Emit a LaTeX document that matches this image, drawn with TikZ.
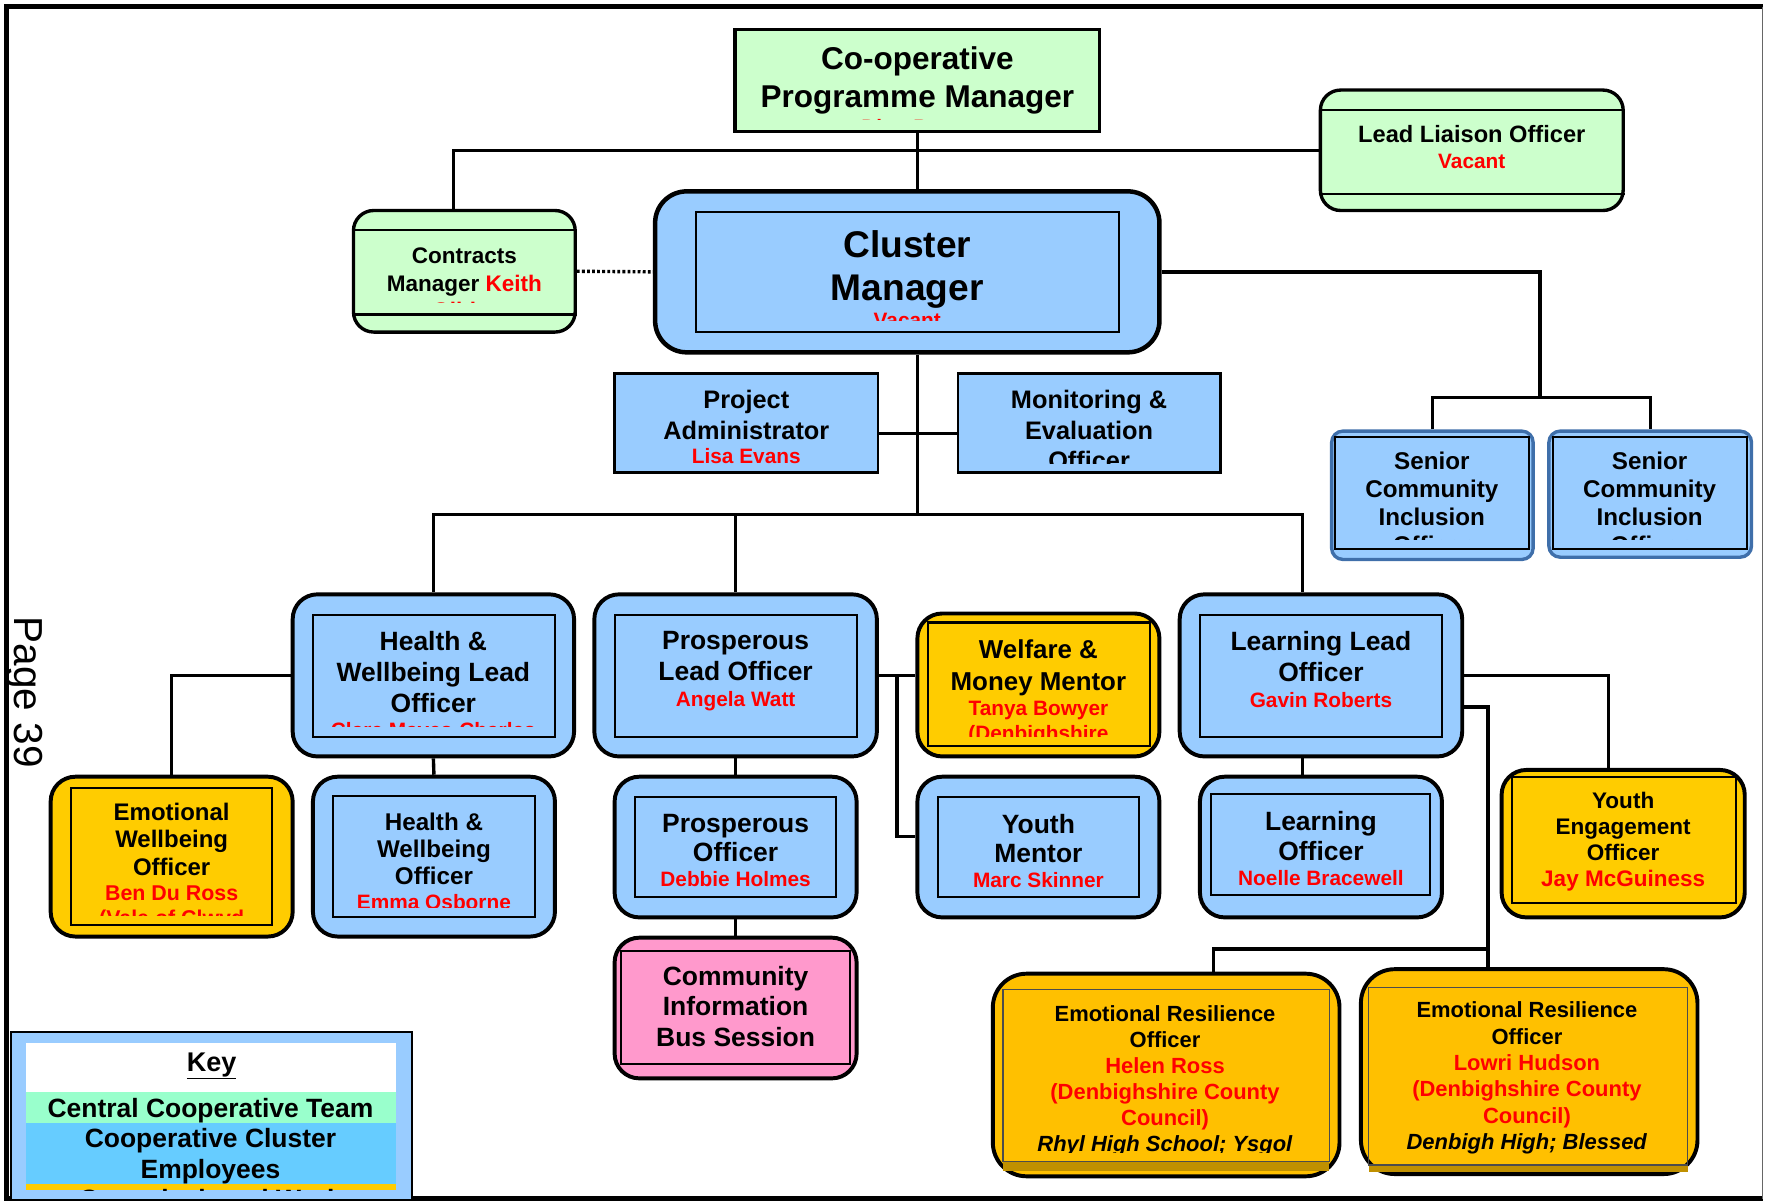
\documentclass[tikz,border=0pt]{standalone}
\usepackage{fontspec}
\setmainfont{Liberation Sans}
\usetikzlibrary{calc}
\definecolor{boxgreen}{HTML}{CCFFCC}
\definecolor{boxblue}{HTML}{99CCFF}
\definecolor{boxyellow}{HTML}{FFCC00}
\definecolor{boxamber}{HTML}{FFC000}
\definecolor{boxpink}{HTML}{FF99CC}
\definecolor{keygreen}{HTML}{99FFCC}
\definecolor{keyblue}{HTML}{66CCFF}
\definecolor{namered}{HTML}{FF0000}
\definecolor{edgeblue}{HTML}{3F6FAA}
\definecolor{amberdark}{HTML}{C09000}
\newcommand{\boxfont}[2]{\fontsize{#1}{#2}\selectfont\bfseries}
\newcommand{\who}[2][18.5]{{\color{namered}\fontsize{#1}{#1}\selectfont #2}}
\tikzset{
  rolebox/.style={draw, line width=3.5pt, rounded corners=22pt, inner sep=0pt},
  roleframe/.style={draw, line width=1.8pt, inner sep=0pt},
  plainbox/.style={draw, line width=2.5pt, inner sep=0pt},
  link/.style={line width=3pt},
  roletext/.style={align=center, inner sep=0pt, anchor=north},
}

\begin{document}
\begin{tikzpicture}[x=1pt, y=-1pt]
\useasboundingbox (0,0) rectangle (1568,1069);

% Draw page frame
\draw[line width=4.5pt] (1566,6) -- (6,6) -- (6,1065) -- (1566,1065);
\draw[line width=1.2pt, black!60] (1566,6) -- (1566,1065);
\node[rotate=-90, inner sep=0pt, font=\fontsize{36}{36}\selectfont] (pagenum) at (22,615) {Page 39};

% Draw central team
\node[plainbox, line width=3pt, fill=boxgreen, minimum width=324, minimum height=91] (coop) at (815,71.5) {};
\begin{scope}
  \clip (653,26) rectangle (977,106);
  \node[roletext, font=\boxfont{28}{33}] (cooptxt) at (815,41.6) {Co-operative\\Programme Manager\\[-9pt]\who{Dion Potter}};
\end{scope}

\node[rolebox, rounded corners=18pt, line width=3pt, fill=boxgreen, minimum width=269, minimum height=107] (liaison) at (1307.5,133.5) {};
\draw[line width=2pt] ([yshift=-19pt]liaison.north west) -- ([yshift=-19pt]liaison.north east);
\draw[line width=2pt] ([yshift=16pt]liaison.south west) -- ([yshift=16pt]liaison.south east);
\node[roletext, font=\boxfont{21}{24}] (liaisontxt) at (1307.5,111.2) {Lead Liaison Officer\\[-1pt]\who{Vacant}};

\node[rolebox, rounded corners=18pt, line width=3pt, fill=boxgreen, minimum width=197, minimum height=108] (contracts) at (412.5,241) {};
\draw[line width=2pt] ([yshift=-19pt]contracts.north west) -- ([yshift=-19pt]contracts.north east);
\draw[line width=2pt] ([yshift=17pt]contracts.south west) -- ([yshift=17pt]contracts.south east);
\begin{scope}
  \clip (314,206) rectangle (511,268.5);
  \node[roletext, font=\boxfont{20}{25}] (contractstxt) at (412.5,219.6) {Contracts\\Manager \who[20]{Keith}\\[-1pt]\who[20]{Gibbs}};
\end{scope}

% Draw cluster manager
\node[rolebox, rounded corners=28pt, line width=4pt, fill=boxblue, minimum width=448, minimum height=143] (cluster) at (806,241.5) {};
\node[roleframe, minimum width=376, minimum height=107] (clusterin) at (806,241.5) {};
\begin{scope}
  \clip (618,188) rectangle (994,285);
  \node[roletext, font=\boxfont{33}{38}] (clustertxt) at (806,204.8) {Cluster\\Manager\\[-13.7pt]\who{Vacant}};
\end{scope}

\draw[line width=3pt, dash pattern=on 2.5pt off 2pt] (contracts.east) -- (cluster.west);
\draw[link] (coop.south) -- (coop.south |- cluster.north);
\draw[link] (liaison.west) -| ([xshift=-9.5pt]contracts.north);

% Draw support posts
\node[plainbox, fill=boxblue, minimum width=234, minimum height=88] (admin) at (663,376) {};
\begin{scope}
  \clip (546,332) rectangle (780,419);
  \node[roletext, font=\boxfont{22.5}{27}] (admintxt) at (663,346.7) {Project\\Administrator\\[-5.4pt]\who{Lisa Evans}};
\end{scope}
\node[plainbox, fill=boxblue, minimum width=233, minimum height=88] (monitor) at (967.5,376) {};
\begin{scope}
  \clip (851,332) rectangle (1084,412);
  \node[roletext, font=\boxfont{22.5}{27}] (monitortxt) at (967.5,346.7) {Monitoring \&\\Evaluation\\Officer};
\end{scope}

\coordinate (spine) at (815,457);
\draw[link] (coop.south |- cluster.south) -- (spine);
\draw[link] ([yshift=-9pt]admin.east) -- ([yshift=-9pt]monitor.west);

% Draw senior inclusion officers
\node[rolebox, rounded corners=10pt, line width=3pt, draw=edgeblue, fill=boxblue, minimum width=179, minimum height=114] (senior1) at (1272.5,440) {};
\node[roleframe, minimum width=172, minimum height=100] (senior1in) at (1272,438) {};
\node[rolebox, rounded corners=10pt, line width=3pt, draw=edgeblue, fill=boxblue, minimum width=180, minimum height=112] (senior2) at (1466,439) {};
\node[roleframe, minimum width=172, minimum height=100] (senior2in) at (1466,438) {};
\begin{scope}
  \clip (1186,388) rectangle (1552,479);
  \node[roletext, font=\boxfont{21.5}{25}] (senior1txt) at (1272,401) {Senior\\Community\\Inclusion\\Officer};
  \node[roletext, font=\boxfont{21.5}{25}] (senior2txt) at (1465.5,401) {Senior\\Community\\Inclusion\\Officer};
\end{scope}

\coordinate (seniorfork) at (1368,353);
\draw[link] (cluster.east) -| (seniorfork);
\draw[link] (senior1.north) |- (seniorfork) -| (senior2.north);

% Draw lead officers
\node[rolebox, fill=boxblue, minimum width=250, minimum height=144] (hwlead) at (385,600) {};
\node[roleframe, minimum width=215, minimum height=109] (hwleadin) at (385.5,600.5) {};
\begin{scope}
  \clip (278,546) rectangle (493,645.5);
  \node[roletext, font=\boxfont{23.5}{27.5}] (hwleadtxt) at (385,560.3) {Health \&\\Wellbeing Lead\\Officer\\[-5pt]\who{Clare Mayes-Charles}};
\end{scope}

\node[rolebox, fill=boxblue, minimum width=251, minimum height=144] (plead) at (653.5,600) {};
\node[roleframe, minimum width=215, minimum height=109] (pleadin) at (653.5,600.5) {};
\node[roletext, font=\boxfont{23.5}{28}] (pleadtxt) at (653.5,560.3) {Prosperous\\Lead Officer\\[-4.8pt]\who{Angela Watt}};

\node[rolebox, fill=boxyellow, minimum width=215, minimum height=127] (welfare) at (922.5,608.5) {};
\node[roleframe, minimum width=198, minimum height=110] (welfarein) at (923,608) {};
\begin{scope}
  \clip (824,553) rectangle (1022,654);
  \node[roletext, font=\boxfont{23}{28}] (welfaretxt) at (922.5,568.5) {Welfare \&\\Money Mentor\\[-5.6pt]\who{Tanya Bowyer}\\[-5.6pt]\who{(Denbighshire}};
\end{scope}

\node[rolebox, fill=boxblue, minimum width=251, minimum height=144] (learnlead) at (1173.5,600) {};
\node[roleframe, minimum width=215, minimum height=109] (learnleadin) at (1173.5,600.5) {};
\node[roletext, font=\boxfont{23.5}{28}] (learnleadtxt) at (1173.5,560.3) {Learning Lead\\Officer\\[-4.8pt]\who{Gavin Roberts}};

\draw[link] (hwlead.north) |- (spine) -| ([xshift=-16.5pt]learnlead.north);
\draw[link] (plead.north) -- (plead.north |- spine);

% Draw officers
\node[rolebox, fill=boxyellow, minimum width=215, minimum height=142] (emowell) at (152.5,761) {};
\node[roleframe, minimum width=179, minimum height=122] (emowellin) at (152.5,761) {};
\begin{scope}
  \clip (63,700) rectangle (242,813);
  \node[roletext, font=\boxfont{21.3}{24.5}] (emowelltxt) at (152.5,713.1) {Emotional\\Wellbeing\\Officer\\[-2.4pt]\who[19]{Ben Du Ross}\\[-2.4pt]\who[19]{(Vale of Clwyd}};
\end{scope}

\node[rolebox, fill=boxblue, minimum width=215, minimum height=142] (hwofficer) at (385.5,761) {};
\node[roleframe, minimum width=179, minimum height=108] (hwofficerin) at (385.5,761) {};
\begin{scope}
  \clip (296,707) rectangle (475,806);
  \node[roletext, font=\boxfont{21.5}{24}] (hwofficertxt) at (385.5,722) {Health \&\\Wellbeing\\Officer\\[-2pt]\who{Emma Osborne}};
\end{scope}

\node[rolebox, fill=boxblue, minimum width=215, minimum height=125] (pofficer) at (653.5,752.5) {};
\node[roleframe, minimum width=179, minimum height=89] (pofficerin) at (653.5,752.5) {};
\node[roletext, font=\boxfont{23.5}{26}] (pofficertxt) at (653.5,723.3) {Prosperous\\Officer\\[-3.8pt]\who{Debbie Holmes}};

\node[rolebox, fill=boxpink, minimum width=215, minimum height=125] (bus) at (653.5,895.5) {};
\node[roleframe, minimum width=203, minimum height=100] (busin) at (653.5,895) {};
\node[roletext, font=\boxfont{23.5}{27}] (bustxt) at (653.5,858.3) {Community\\Information\\Bus Session};

\node[rolebox, fill=boxblue, minimum width=215, minimum height=125] (ymentor) at (922.5,752.5) {};
\node[roleframe, minimum width=179, minimum height=89] (ymentorin) at (922.5,752.5) {};
\node[roletext, font=\boxfont{23.5}{26}] (ymentortxt) at (922.5,723.3) {Youth\\Mentor\\[-3.8pt]\who{Marc Skinner}};

\node[rolebox, fill=boxblue, minimum width=215, minimum height=125] (learnofficer) at (1173.5,752.5) {};
\node[roleframe, minimum width=194, minimum height=90] (learnofficerin) at (1173,750) {};
\node[roletext, font=\boxfont{23.5}{27}] (learnofficertxt) at (1173.5,720.3) {Learning\\Officer\\[-4.8pt]\who{Noelle Bracewell}};

\node[rolebox, fill=boxyellow, minimum width=216, minimum height=131] (youtheng) at (1442,749.5) {};
\node[roleframe, minimum width=199, minimum height=112] (youthengin) at (1442.5,746) {};
\node[roletext, font=\boxfont{20}{23}] (youthengtxt) at (1442,703.6) {Youth\\Engagement\\Officer\\\who[20]{Jay McGuiness}};

% Draw resilience officers
\node[rolebox, rounded corners=30pt, fill=boxamber, minimum width=308, minimum height=180] (ero1) at (1036,955) {};
\fill[amberdark] (891,1032) rectangle (1181,1040);
\node[roleframe, line width=1pt, draw=black!70, minimum width=290, minimum height=153] (ero1in) at (1036,955.5) {};
\begin{scope}
  \clip (891,879) rectangle (1181,1024);
  \node[roletext, font=\boxfont{19.5}{23.2}] (ero1txt) at (1035,892.8) {Emotional Resilience\\Officer\\\who[19.5]{Helen Ross}\\\who[19.5]{(Denbighshire County}\\\who[19.5]{Council)}\\\textit{Rhyl High School; Ysgol}};
\end{scope}

\node[rolebox, rounded corners=30pt, fill=boxamber, minimum width=299, minimum height=182] (ero2) at (1358.5,952) {};
\fill[amberdark] (1216,1035) rectangle (1500,1041);
\node[roleframe, line width=1pt, draw=black!70, minimum width=283, minimum height=158] (ero2in) at (1357.5,956) {};
\begin{scope}
  \clip (1216,877) rectangle (1499,1028);
  \node[roletext, font=\boxfont{19.5}{23.4}] (ero2txt) at (1356.5,889.8) {Emotional Resilience\\Officer\\\who[19.5]{Lowri Hudson}\\\who[19.5]{(Denbighshire County}\\\who[19.5]{Council)}\\\textit{Denbigh High; Blessed}};
\end{scope}

% Draw lower links
\coordinate (pfork) at (797,600);
\draw[link] (plead.east) -- (welfare.west |- plead.east);
\draw[link] (pfork) |- ([yshift=9.5pt]ymentor.west);
\draw[link] (hwlead.west) -| (emowell.north);
\draw[link] (hwlead.south) -- (hwofficer.north);
\draw[link] (plead.south) -- (pofficer.north);
\draw[link] (pofficer.south) -- (bus.north);
\draw[link] ([xshift=-16.5pt]learnlead.south) -- ([xshift=-16.5pt]learnlead.south |- learnofficer.north);
\draw[link] (learnlead.east) -| ([xshift=-13pt]youtheng.north);
\coordinate (erofork) at (1322,843);
\draw[link] ([yshift=-28pt]learnlead.east) -| (erofork |- ero2.north);
\draw[link] (erofork) -| ([xshift=42pt]ero1.north);

% Draw key
\node[plainbox, line width=2pt, fill=boxblue, minimum width=356, minimum height=149] (key) at (188,991.5) {};
\fill[white] (23,927) rectangle (352,970);
\fill[keygreen] (23,970) rectangle (352,998);
\fill[keyblue] (23,998) rectangle (352,1052);
\fill[boxyellow] (23,1052) rectangle (352,1057);
\node[roletext, font=\boxfont{24}{24}] (keytitle) at (188,935.1) {\underline{Key}};
\begin{scope}
  \clip (23,970) rectangle (352,1058);
  \node[roletext, font=\boxfont{23.5}{27}] (keyrows) at (187,975.3) {Central Cooperative Team\\Cooperative Cluster\\Employees\\Commissioned Work};
\end{scope}
\end{tikzpicture}
\end{document}
